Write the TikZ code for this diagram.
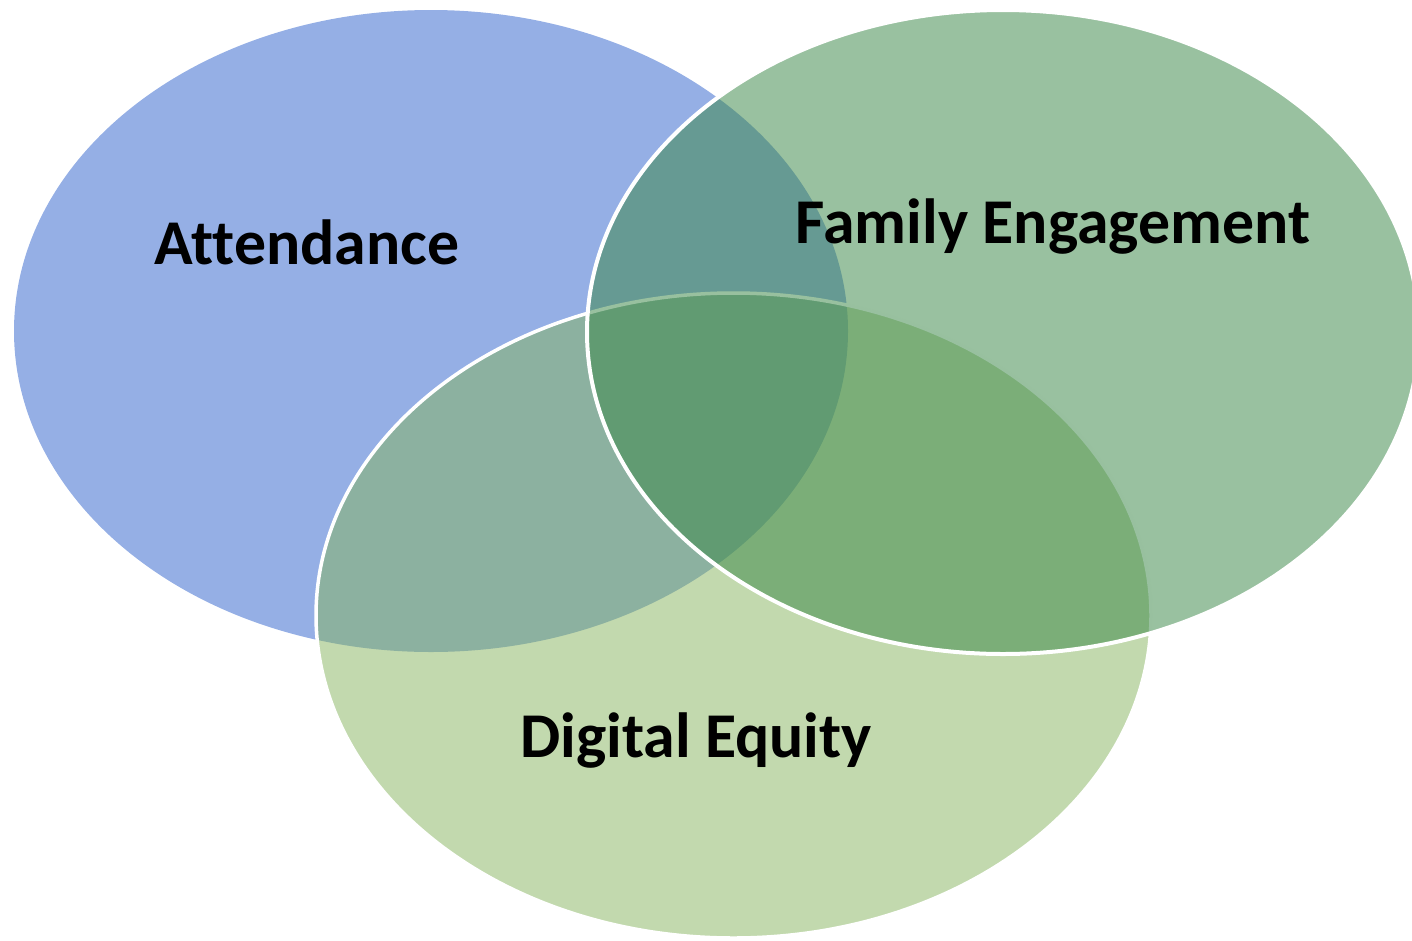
\documentclass[tikz,border=0pt]{standalone}
\usepackage{fontspec}
\setmainfont[Ligatures=NoCommon]{Carlito}
\definecolor{cblue}{RGB}{149,175,229}
\definecolor{cgreen}{RGB}{59,136,72}
\definecolor{clight}{RGB}{133,179,93}
\tikzset{
  lab/.style={font=\fontsize{63.8}{70}\selectfont\bfseries, anchor=base, inner sep=0pt},
}
\begin{document}
\begin{tikzpicture}[x=1pt,y=-1pt]
\useasboundingbox (0,0) rectangle (1412,940);
\begin{scope}
\clip (0,0) rectangle (1412,940);
% Attendance
\fill[cblue] (431,331) ellipse [x radius=417, y radius=321];
% Digital Equity
\fill[clight, fill opacity=0.5] (733.5,615.5) ellipse [x radius=417.5, y radius=322.5];
\draw[white, line width=3.5pt] (733.5,615.5) ellipse [x radius=417.5, y radius=322.5];
% Family Engagement
\fill[cgreen, fill opacity=0.52] (1003,332) ellipse [x radius=416, y radius=322];
\draw[white, line width=4pt] (1003,332) ellipse [x radius=416, y radius=322];
\end{scope}
\node[lab] (att) at (307,264) {Attendance};
\node[lab] (fam) at (1053,243) {Family Engagement};
\node[lab] (dig) at (696,757) {Digital Equity};
\end{tikzpicture}
\end{document}
